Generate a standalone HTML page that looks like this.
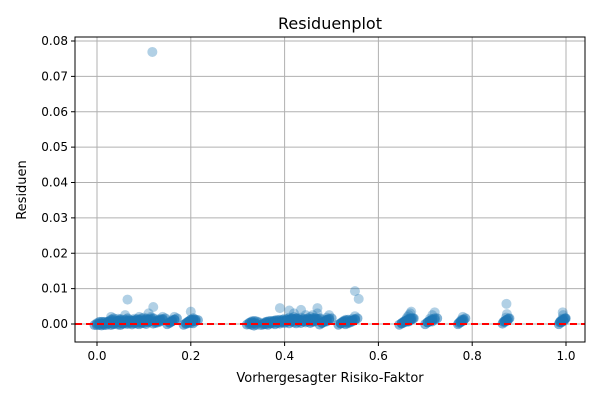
<!DOCTYPE html>
<html><head><meta charset="utf-8"><style>
body{margin:0;background:#fff;font-family:"Liberation Sans","DejaVu Sans",sans-serif}
svg{display:block}
</style></head><body>
<svg id="chart" width="600" height="400" font-family="DejaVu Sans, Liberation Sans, sans-serif">
<rect width="600" height="400" fill="#fff"/>
<text x="330" y="29" text-anchor="middle" font-size="16">Residuenplot</text>
<g id="grid"></g><g id="pts"></g><g id="axes"></g>
<text x="330" y="382" text-anchor="middle" font-size="13">Vorhergesagter Risiko-Faktor</text>
<text transform="translate(26,190) rotate(-90)" text-anchor="middle" font-size="13">Residuen</text>
</svg>
<script>
const xTicks=[0,0.2,0.4,0.6,0.8,1.0];
const xTickLabels=["0.0","0.2","0.4","0.6","0.8","1.0"];
const yTicks=[0,0.01,0.02,0.03,0.04,0.05,0.06,0.07,0.08];
const yTickLabels=["0.00","0.01","0.02","0.03","0.04","0.05","0.06","0.07","0.08"];
const predicted=[0,0.005,0.01,0.015,0.02,0.025,0.03,0.035,0.04,0.045,0.05,0.055,0.06,0.065,0.07,0.075,0.08,0.085,0.09,0.095,0.1,0.105,0.11,0.03,0.045,0.06,0.065,0.08,0.09,0.1,0.11,0.12,0.115,0.125,0.13,0.135,0.14,0.155,0.16,0.165,0.19,0.195,0.2,0.205,0.21,0.2,
0.325,0.33,0.335,0.34,0.355,0.36,0.365,0.37,0.375,0.38,0.385,0.39,0.395,0.4,0.405,0.41,0.415,0.42,0.425,0.43,0.435,0.44,0.445,0.45,0.455,0.46,0.465,0.47,0.39,0.41,0.42,0.435,0.46,0.47,0.48,0.485,0.49,0.495,0.52,0.525,0.53,0.535,0.54,0.545,0.55,0.55,0.558,
0.65,0.655,0.66,0.662,0.665,0.668,0.67,0.705,0.71,0.715,0.72,0.775,0.777,0.78,0.87,0.872,0.874,0.873,0.99,0.992,0.994,0.993,0.118];
const residuals=[0,0,0,-0.0002,0.0002,0,0.001,0,0.0005,0.001,0.0003,0,0.0008,0.001,0.0006,0.001,0.0004,0.001,0.0008,0.0005,0.001,0.0012,0.0006,0.002,0.0015,0.0025,0.0069,0.0015,0.002,0.0018,0.003,0.0048,0.002,0.0008,0.0012,0.0015,0.002,0.0005,0.0012,0.002,0.0002,0.0006,0.0012,0.0012,0.0010,0.0035,
0.0003,0.0005,0.0002,-0.0003,0,0.0003,0.0005,0.0002,0.0008,0.001,0.0005,0.0012,0.0008,0.0015,0.0012,0.0018,0.001,0.002,0.0015,0.001,0.0018,0.0012,0.0025,0.0015,0.002,0.0012,0.0018,0.003,0.0045,0.0038,0.003,0.004,0.0025,0.0045,0.0003,0.0012,0.0018,0.0025,0.0002,0.0008,0.0012,0.0005,0.001,0.0015,0.0022,0.0093,0.0071,
0.0002,0.0008,0.0015,0.002,0.0025,0.003,0.0035,0.0005,0.0015,0.0025,0.0033,0.0005,0.0012,0.002,0.0008,0.0018,0.0028,0.0057,0.0005,0.0015,0.0025,0.0033,0.0769];
const L=75,R=585,T=37,B=342;
const xs=v=>97+v*469, ys=v=>324-v*3537.5;
const ns="http://www.w3.org/2000/svg";
function mk(t,a,p){const e=document.createElementNS(ns,t);for(const k in a)e.setAttribute(k,a[k]);p.appendChild(e);return e;}
const grid=document.getElementById('grid'),axes=document.getElementById('axes'),pts=document.getElementById('pts');
xTicks.forEach((v,i)=>{const x=xs(v);
 const g=mk('line',{x1:x,x2:x,y1:T,y2:B,stroke:'#b0b0b0','stroke-width':1},grid);
 
 
 mk('line',{x1:x,x2:x,y1:B,y2:B+4,stroke:'#000'},axes);
 const t=mk('text',{x:x,y:B+18,'text-anchor':'middle','font-size':12},axes);t.textContent=xTickLabels[i];
 
 });
yTicks.forEach((v,i)=>{const y=ys(v);
 const g=mk('line',{x1:L,x2:R,y1:y,y2:y,stroke:'#b0b0b0','stroke-width':1},grid);
 
 
 mk('line',{x1:L-4,x2:L,y1:y,y2:y,stroke:'#000'},axes);
 const t=mk('text',{x:L-7,y:y+4,'text-anchor':'end','font-size':12},axes);t.textContent=yTickLabels[i];
 
 });
predicted.forEach((p,i)=>{
 const r=residuals[i];
 const c=mk('circle',{cx:xs(p),cy:ys(r),r:5,fill:'#1f77b4','fill-opacity':0.35},pts);
 
 
 if(r<0.004){
  [-0.0003,0.0002,0.0006].forEach((d,j)=>{
   const c2=mk('circle',{cx:xs(p)+j*2.5-2.5,cy:ys(Math.max(Math.min(r,0.002)*0.5+d,-0.0005)),r:5,fill:'#1f77b4','fill-opacity':0.55},pts);
   
   
  });
 }
});
const z=mk('line',{x1:L,x2:R,y1:ys(0),y2:ys(0),stroke:'#ff0000','stroke-width':2,'stroke-dasharray':'7,4'},axes);


const f=mk('rect',{x:L,y:T,width:R-L,height:B-T,fill:'none',stroke:'#000','stroke-width':1},axes);


</script>
</body></html>
